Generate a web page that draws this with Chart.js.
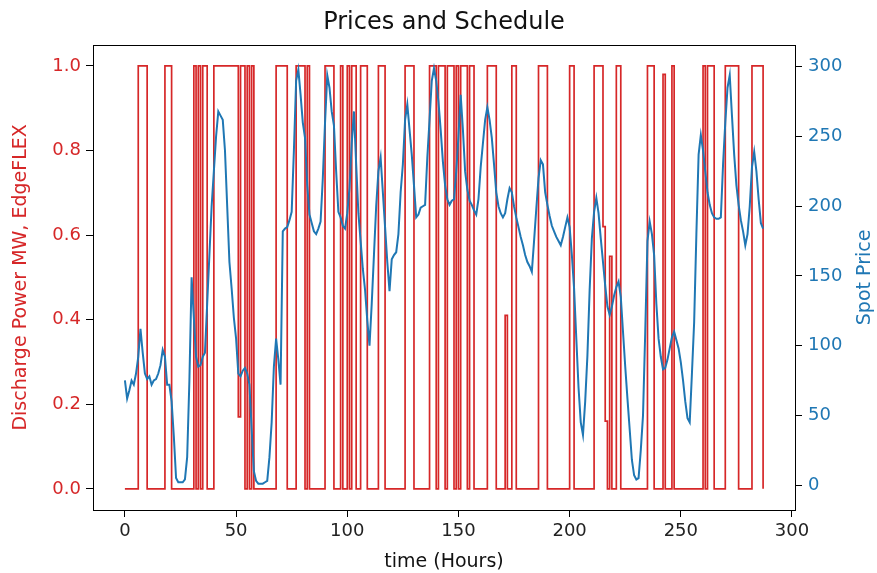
<!DOCTYPE html>
<html>
<head>
<meta charset="utf-8">
<title>Prices and Schedule</title>
<script src="https://cdn.jsdelivr.net/npm/chart.js@4.4.1/dist/chart.umd.min.js"></script>
<style>
  html, body { margin: 0; padding: 0; background: #fff; }
  #wrap { width: 877px; height: 573px; }
</style>
</head>
<body>
<div id="wrap"><canvas id="schedChart" width="877" height="573"></canvas></div>
<script>
// discharge schedule, one value per hour (0..287)
const discharge = [
  0,0,0,0,0,0,1,1,1,1,0,0,
  0,0,0,0,0,0,1,1,1,0,0,0,
  0,0,0,0,0,0,0,1,0,1,0,1,
  1,0,0,0,1,1,1,1,1,1,1,1,
  1,1,1,0.17,1,1,0,1,0,1,0,0,
  0,0,0,0,0,0,0,0,1,1,1,1,
  1,0,0,0,0,1,1,1,1,0,1,0,
  0,0,0,0,0,0,1,1,1,1,0,0,
  0,1,0,0,1,0,1,1,0,0,1,1,
  1,0,0,0,0,0,1,1,1,0,0,0,
  0,0,0,0,0,0,1,1,1,1,0,0,
  0,0,0,0,0,1,1,1,0,1,1,1,
  0,1,1,1,0,1,0,1,1,1,0,1,
  1,0,0,0,0,0,0,1,1,1,1,0,
  0,0,0,0.41,0,0,1,1,0,0,0,0,
  0,0,0,0,0,0,1,1,1,1,0,0,
  0,0,0,0,0,0,0,0,1,1,0,0,
  0,0,0,0,0,0,0,1,1,1,1,0.62,
  0.16,0,0.55,0,0,1,1,0,0,0,0,0,
  0,0,0,0,0,0,0,1,1,1,0,0,
  0,0,0.98,0,0,0,1,0,0,0,0,0,
  0,0,0,0,0,0,0,0,1,0,1,1,
  1,0,0,0,0,0,1,1,1,1,1,1,
  0,0,0,0,0,0,1,1,1,1,1,0
];

// spot price, one value per hour (0..287)
const spotPrice = [
  75,62,68,75,72,80,92,112,95,80,76,78,
  72,75,76,80,86,97,92,72,72,60,35,5,
  2,2,2,4,20,75,149,120,92,85,86,92,
  95,130,165,200,225,250,268,265,262,240,200,160,
  141,120,105,80,78,82,84,80,72,40,10,3,
  1,1,1,2,3,20,45,85,105,90,72,182,
  184,185,190,196,240,290,298,280,260,249,215,194,
  188,182,180,184,189,220,260,294,285,268,258,225,
  196,192,186,184,195,213,245,268,230,195,175,155,
  140,118,100,130,165,200,225,235,210,185,160,139,
  162,165,167,180,210,230,262,273,255,237,215,192,
  194,199,200,201,235,262,290,299,290,275,255,232,
  215,205,201,204,205,225,250,280,255,225,212,204,
  201,197,194,205,228,245,262,271,262,249,230,210,
  200,195,192,195,205,213,210,200,192,185,178,172,
  165,160,157,153,175,198,220,233,230,210,201,193,
  186,182,178,175,172,178,185,192,185,165,141,105,
  70,45,36,60,93,140,177,196,206,195,177,160,
  143,128,122,128,136,142,146,135,110,85,62,40,
  18,7,4,5,25,50,110,175,189,180,165,130,
  105,92,83,84,90,98,106,110,104,98,88,75,
  60,48,45,80,117,180,237,251,240,225,210,201,
  195,192,191,191,192,230,260,285,294,265,237,215,
  201,190,182,172,180,200,228,239,225,205,188,184
];

const xTicks = [0, 50, 100, 150, 200, 250, 300];
const powerTicks = [0, 0.2, 0.4, 0.6, 0.8, 1.0];
const priceTicks = [0, 50, 100, 150, 200, 250, 300];

const RED = '#d62728';
const BLUE = '#1f77b4';
const FONT = 'DejaVu Sans';

// box around the plot, plus the right label read bottom-to-top like matplotlib
const framePlugin = {
  id: 'frame',
  afterDatasetsDraw(chart) {
    const a = chart.chartArea;
    const ctx = chart.ctx;
    ctx.save();
    ctx.strokeStyle = '#000';
    ctx.lineWidth = 1;
    ctx.strokeRect(Math.round(a.left) + 0.5, Math.round(a.top) + 0.5,
      Math.round(a.right - a.left), Math.round(a.bottom - a.top));
    // right axis title
    ctx.fillStyle = BLUE;
    ctx.font = '19px "' + FONT + '"';
    ctx.textAlign = 'center';
    ctx.textBaseline = 'middle';
    ctx.translate(chart.width - 12, (a.top + a.bottom) / 2);
    ctx.rotate(-Math.PI / 2);
    ctx.fillText('Spot Price', 0, 0);
    ctx.restore();
  }
};

const tickGrid = { drawOnChartArea: false, tickLength: 7, tickColor: '#000', tickWidth: 1 };

new Chart(document.getElementById('schedChart').getContext('2d'), {
  type: 'line',
  data: {
    datasets: [
      {
        label: 'Spot Price',
        data: spotPrice.map((v, i) => ({ x: i, y: v })),
        yAxisID: 'yPrice',
        borderColor: BLUE,
        borderWidth: 2,
        pointRadius: 0,
        tension: 0,
        order: 0
      },
      {
        label: 'Discharge',
        data: discharge.map((v, i) => ({ x: i, y: v })),
        yAxisID: 'yPower',
        borderColor: RED,
        borderWidth: 1.7,
        pointRadius: 0,
        stepped: 'before',
        order: 1
      }
    ]
  },
  options: {
    responsive: false,
    animation: false,
    layout: { padding: 0 },
    plugins: {
      legend: { display: false },
      tooltip: { enabled: false },
      title: {
        display: true,
        text: 'Prices and Schedule',
        fullSize: false,
        color: '#111',
        font: { family: FONT, size: 24, weight: 'normal' },
        padding: { top: 8, bottom: 8 }
      }
    },
    scales: {
      x: {
        type: 'linear',
        min: -14.35,
        max: 301.35,
        afterFit: s => { s.height = 63; },
        afterBuildTicks: s => { s.ticks = xTicks.map(v => ({ value: v })); },
        grid: tickGrid,
        border: { display: false },
        ticks: {
          color: '#222',
          padding: 4,
          maxRotation: 0,
          font: { family: FONT, size: 18 },
          callback: v => String(v)
        },
        title: {
          display: true,
          text: 'time (Hours)',
          color: '#111',
          font: { family: FONT, size: 19 },
          padding: { top: 0, bottom: 0 }
        }
      },
      yPower: {
        type: 'linear',
        position: 'left',
        min: -0.05,
        max: 1.05,
        afterFit: s => { s.width = 93; },
        afterBuildTicks: s => { s.ticks = powerTicks.map(v => ({ value: v })); },
        grid: tickGrid,
        border: { display: false },
        ticks: {
          color: RED,
          padding: 5,
          font: { family: FONT, size: 18 },
          callback: v => v.toFixed(1)
        },
        title: {
          display: true,
          text: 'Discharge Power MW, EdgeFLEX',
          color: RED,
          font: { family: FONT, size: 19 },
          padding: { top: 10, bottom: 0 }
        }
      },
      yPrice: {
        type: 'linear',
        position: 'right',
        min: -17.9,
        max: 315.8,
        afterFit: s => { s.width = 82; },
        afterBuildTicks: s => { s.ticks = priceTicks.map(v => ({ value: v })); },
        grid: tickGrid,
        border: { display: false },
        ticks: {
          color: BLUE,
          padding: 6,
          font: { family: FONT, size: 18 },
          callback: v => String(v)
        }
      }
    }
  },
  plugins: [framePlugin]
});
</script>
</body>
</html>
